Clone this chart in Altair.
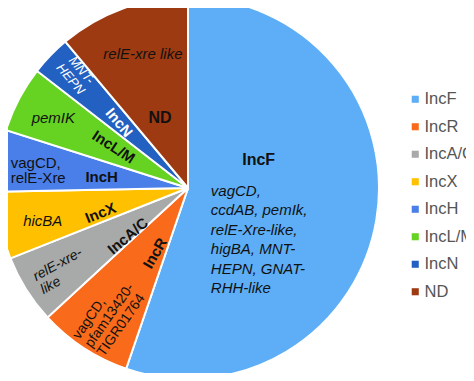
import altair as alt
import pandas as pd

# ---- data ----
categories = ["IncF", "IncR", "IncA/C", "IncX", "IncH", "IncL/M", "IncN", "ND"]
shares = [55.25, 7.9, 5.85, 5.7, 5.2, 5.6, 3.4, 11.1]
colors = ["#5DAEF6", "#F96A1B", "#A7AAA8", "#FFC000", "#4A7FE9", "#66D322", "#2261C2", "#9E3A12"]

df = pd.DataFrame({"cat": categories, "share": shares, "order": list(range(len(categories)))})
total = float(sum(shares))

FONT = "Liberation Sans"
W, H = 458, 365
CX, CY = 180, 180
R = 191

theta_scale = alt.Scale(domain=[0, total])

stacked = alt.Chart(df).transform_stack(
    stack="share", groupby=[], as_=["start", "end"],
    sort=[alt.SortField("order", order="ascending")]
)

pie = stacked.mark_arc(outerRadius=R, stroke="white", strokeWidth=2).encode(
    theta=alt.Theta("start:Q", stack=None, scale=theta_scale),
    theta2="end:Q",
    color=alt.Color(
        "cat:N",
        scale=alt.Scale(domain=categories, range=colors),
        sort=categories,
        legend=alt.Legend(
            orient="none", legendX=399, legendY=83, title=None,
            symbolType="square", symbolSize=50, symbolStrokeWidth=0,
            labelFont=FONT, labelFontSize=16.5, labelColor="#555555",
            labelOffset=1, rowPadding=10.5,
        ),
    ),
    x=alt.value(CX),
    y=alt.value(CY),
)


def label(cat, text, r, frac, angle=0, size=15, weight="normal", style="normal",
          color="#111111", align="center", line_height=None):
    props = dict(radius=r, angle=angle % 360, fontSize=size, fontWeight=weight,
                 fontStyle=style, color=color, align=align, baseline="middle", font=FONT)
    if line_height:
        props["lineHeight"] = line_height
    return (
        stacked.transform_filter(alt.datum.cat == cat)
        .transform_calculate(pos=f"datum.start + {frac} * (datum.end - datum.start)")
        .mark_text(**props)
        .encode(
            theta=alt.Theta("pos:Q", stack=None, scale=theta_scale),
            x=alt.value(CX),
            y=alt.value(CY),
            text=alt.value(text),
        )
    )


labels = [
    label("IncF", "IncF", 76, 0.344, size=16, weight="bold"),
    label("IncF", ["vagCD,", "ccdAB, pemIk,", "relE-Xre-like,", "higBA, MNT-", "HEPN, GNAT-", "RHH-like"],
          23, 0.49, size=15, style="italic", align="left", line_height=19.5),
    label("ND", "relE-xre like", 141, 0.533, size=15, style="italic"),
    label("ND", "ND", 75, 0.452, size=16, weight="bold"),
    label("IncN", ["MNT-", "HEPN"], 159, 0.82, angle=50, size=13, style="italic", color="white", line_height=14),
    label("IncN", "IncN", 95, 0.47, angle=50, size=15, weight="bold", color="white"),
    label("IncL/M", "pemIK", 152, 0.495, size=15, style="italic"),
    label("IncL/M", "IncL/M", 85, 0.56, angle=33, size=15, weight="bold"),
    label("IncH", ["vagCD,", "relE-Xre"], 179, 0.48, size=15, align="left", line_height=15),
    label("IncH", "IncH", 87, 0.44, size=15, weight="bold"),
    label("IncX", "hicBA", 149, 0.427, size=15, style="italic"),
    label("IncX", "IncX", 91, 0.277, angle=-22, size=15, weight="bold"),
    label("IncA/C", ["relE-xre-", "like"], 178, 0.59, angle=-29, size=14, style="italic", align="left", line_height=15),
    label("IncA/C", "IncA/C", 77, 0.19, angle=-40, size=15, weight="bold"),
    label("IncR", ["vagCD,", "pfam13420-", "TIGR01764"], 187, 0.63, angle=-55, size=14, align="left", line_height=15),
    label("IncR", "IncR", 73, 0.28, angle=-60, size=15, weight="bold"),
]

chart = alt.layer(pie, *labels).properties(
    width=W, height=H,
    autosize=alt.AutoSizeParams(type="none"),
    padding=0,
).configure_view(stroke=None)

chart.save("out.html", embed_options={"renderer": "svg", "actions": False})
